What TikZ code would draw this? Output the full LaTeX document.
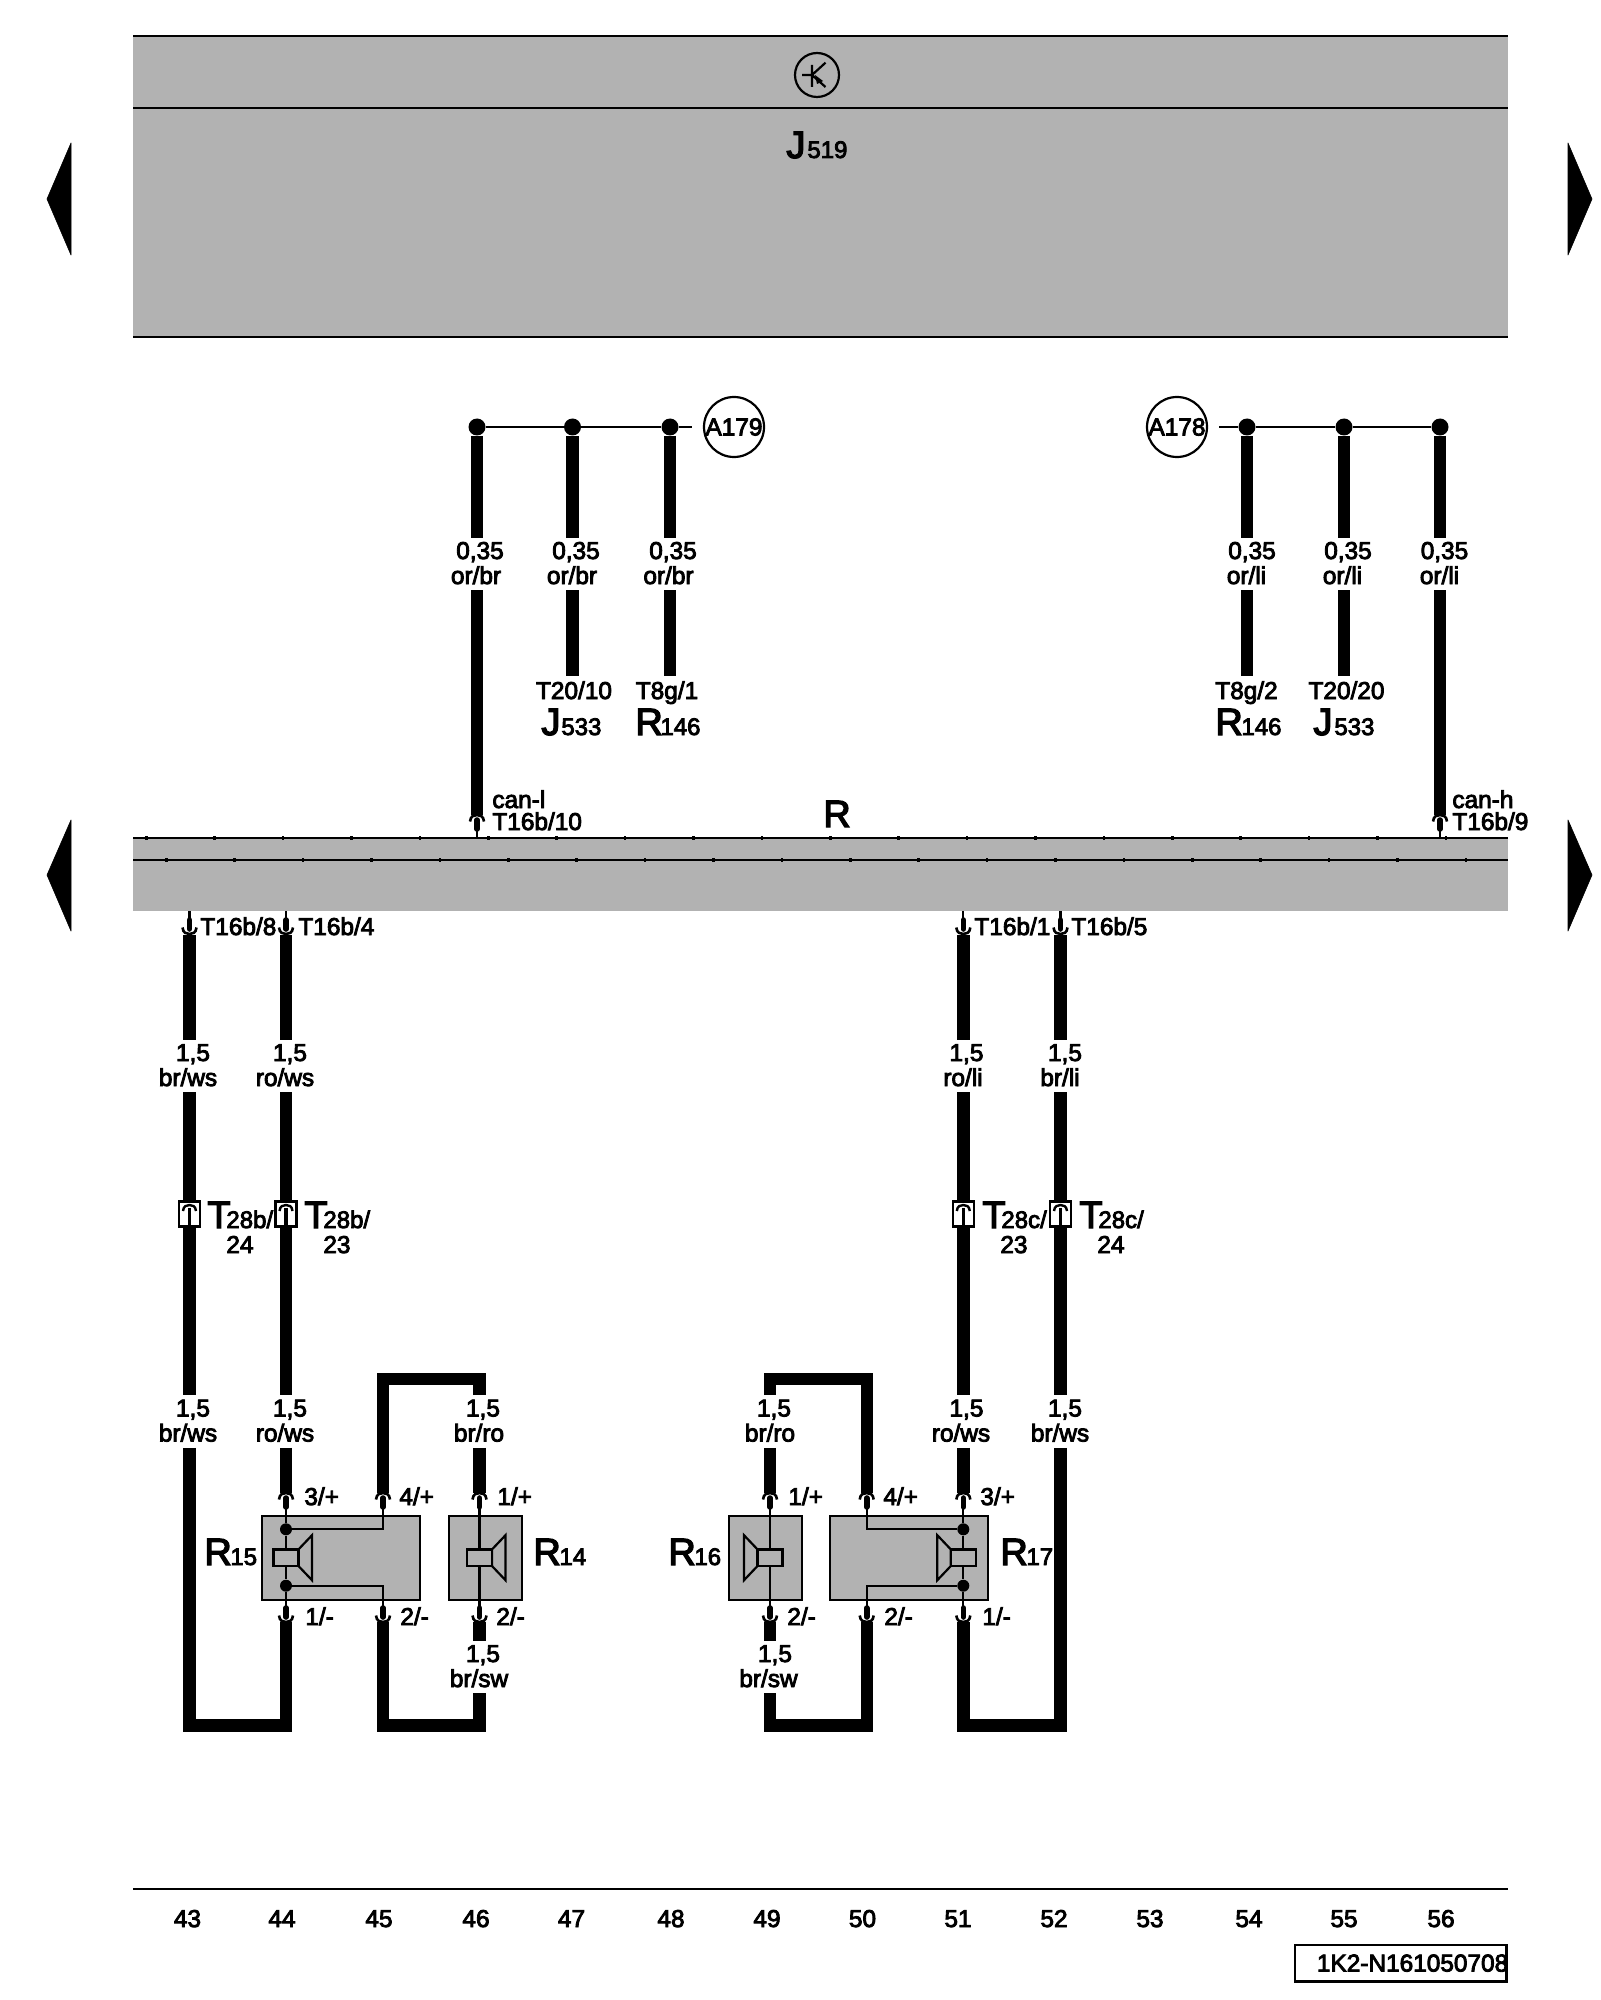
\documentclass[tikz,border=0pt]{standalone}
\usepackage{fontspec}
\setmainfont{Liberation Sans}[FakeBold=3.5]
\usetikzlibrary{calc}
\definecolor{panel}{HTML}{B2B2B2}
\newcommand{\fsA}{\fontsize{12.2}{14}\selectfont}
\newcommand{\fsB}{\fontsize{19}{21}\selectfont}
\newcommand{\fsC}{\fontsize{12}{13}\selectfont}
\tikzset{
  wire/.style={line width=6.2pt,line cap=butt,line join=miter},
  thin wire/.style={line width=1.1pt},
  rule/.style={line width=1.2pt},
  txt/.style={inner sep=0pt,anchor=base,font=\fsA},
  txtl/.style={inner sep=0pt,anchor=base west,font=\fsA},
  gapnode/.style={inner sep=0pt,minimum width=6pt,minimum height=26pt},
  devbox/.style={draw,fill=panel,line width=1.1pt,inner sep=0pt,minimum height=42pt},
  ground/.style={draw,circle,line width=1.1pt,minimum size=30pt,inner sep=0pt,font=\fsA},
  joint/.style={circle,fill=black,inner sep=0pt,minimum size=8.5pt},
  devdot/.style={circle,fill=black,inner sep=0pt,minimum size=6pt},
  navarrow/.style={fill=black,draw=black,line width=.3pt,line join=round},
}
% gap in a wire with a two line label
\newcommand{\wlabel}[7]{%
  \node[gapnode] (#1) at (#2,#3) {};
  \node[txt] (#1a) at (#4,{#3-5}) {#5};
  \node[txt] (#1b) at (#6,{#3+20}) {#7};}
% connector opening upward (wire above, pin below)
\newcommand{\conup}[2]{%
  \begin{scope}[shift={(#1,#2)}]
    \draw[line width=1.3pt] (-7,6.5) .. controls (-6.5,1) and (-3,0) .. (0,0) .. controls (3,0) and (6.5,1) .. (7,6.5);
    \draw[line width=2.8pt,line cap=round] (0,5) -- (0,14);
  \end{scope}}
\newcommand{\condown}[2]{%
  \begin{scope}[shift={(#1,#2)}]
    \draw[line width=1.3pt] (-7,-6.5) .. controls (-6.5,-1) and (-3,0) .. (0,0) .. controls (3,0) and (6.5,-1) .. (7,-6.5);
    \draw[line width=2.8pt,line cap=round] (0,-5) -- (0,-14);
  \end{scope}}
\newcommand{\speaker}[3]{%
  \begin{scope}[shift={(#1,1557.7)},xscale=#2]
    \draw[line width=1.1pt,fill=panel,line join=miter] (12.5,-8.3) -- (26,-22.5) -- (26,22.5) -- (12.5,8.3) -- cycle;
    \draw[line width=1.1pt,fill=panel] (-12.5,-8.3) rectangle (12.5,8.3);
  \end{scope}}
\newcommand{\tbox}[1]{%
  \begin{scope}[shift={(#1,1214)}]
    \draw[line width=1.1pt,fill=white] (-10.5,-12.5) rectangle (10.5,12.5);
    \draw[line width=1.2pt] (-6.5,-3) .. controls (-6,-8) and (-3,-9) .. (0,-9) .. controls (3,-9) and (6,-8) .. (6.5,-3);
    \draw[line width=1.8pt] (0,-6) -- (0,12.5);
  \end{scope}}
\newcommand{\biglabel}[6]{% name, letter x, baseline, letter, sub x, sub
  \node[inner sep=0pt,anchor=base west,font=\fsB] (#1) at (#2,#3) {#4};
  \node[inner sep=0pt,anchor=base west,font=\fsC] (#1s) at (#5,#3) {#6};}
\begin{document}
\begin{tikzpicture}[x=0.5pt,y=-0.5pt]
\useasboundingbox (0,0) rectangle (1600,2000);
% control unit
\fill[panel] (133,36) rectangle (1508,337);
\draw[rule] (133,36) -- (1508,36);
\draw[rule] (133,108) -- (1508,108);
\draw[rule] (133,337) -- (1508,337);
\node[draw,circle,line width=1.1pt,minimum size=22pt,inner sep=0pt] (trans) at (817,75) {};
\draw[line width=1.1pt] (802,75) -- (812,75) (812,65) -- (812,87) (812,75) -- (825.5,62.7) (812,75) -- (825.5,87);
\fill (815,75) -- (823,81) -- (817,84) -- cycle;
\biglabel{J519}{786}{158}{J}{807}{519}
% nav arrows
\draw[navarrow] (71,143) -- (47,199) -- (71,255) -- cycle;
\draw[navarrow] (1568,143) -- (1592,199) -- (1568,255) -- cycle;
\draw[navarrow] (71,820) -- (47,875) -- (71,931) -- cycle;
\draw[navarrow] (1568,820) -- (1592,875) -- (1568,931) -- cycle;
% bus panel
\fill[panel] (133,838) rectangle (1508,911);
\draw[rule] (133,838) -- (1508,838);
\draw[rule] (133,860) -- (1508,860);
\foreach \k in {0,...,19} {
  \fill ({145+68.4*\k},836.2) rectangle ({147.5+68.4*\k},839.8);
  \fill ({165+68.4*\k},858.2) rectangle ({167.5+68.4*\k},861.8);
}
\node[inner sep=0pt,anchor=base,font=\fsB] (Rbus) at (837,827) {R};
% grounds / CAN star points
\node[ground] (A179) at (734,427) {A179};
\node[ground] (A178) at (1177,427) {A178};
\coordinate (s179) at (692,427);
\coordinate (s178) at (1219,427);
\node[joint] (d1) at (477,427) {};
\node[joint] (d2) at (572.5,427) {};
\node[joint] (d3) at (670,427) {};
\node[joint] (d4) at (1247,427) {};
\node[joint] (d5) at (1344,427) {};
\node[joint] (d6) at (1440,427) {};
\draw[thin wire] (d1) -- (d2) -- (d3) -- (s179);
\draw[thin wire] (s178) -- (d4) -- (d5) -- (d6);
\wlabel{g1}{477}{564}{480}{0,35}{476}{or/br}
\wlabel{g2}{572.5}{564}{576}{0,35}{572}{or/br}
\wlabel{g3}{670}{564}{673}{0,35}{668.5}{or/br}
\wlabel{g4}{1247}{564}{1252}{0,35}{1246.5}{or/li}
\wlabel{g5}{1344}{564}{1348}{0,35}{1342.5}{or/li}
\wlabel{g6}{1440}{564}{1444.5}{0,35}{1439.5}{or/li}
\coordinate (e2) at (572.5,676);
\coordinate (e3) at (670,676);
\coordinate (e4) at (1247,676);
\coordinate (e5) at (1344,676);
\coordinate (b1) at (477,815);
\coordinate (b6) at (1440,815);
\draw[wire] (d1) -- (d1 |- g1.north) (d1 |- g1.south) -- (b1);
\draw[wire] (d2) -- (d2 |- g2.north) (d2 |- g2.south) -- (e2);
\draw[wire] (d3) -- (d3 |- g3.north) (d3 |- g3.south) -- (e3);
\draw[wire] (d4) -- (d4 |- g4.north) (d4 |- g4.south) -- (e4);
\draw[wire] (d5) -- (d5 |- g5.north) (d5 |- g5.south) -- (e5);
\draw[wire] (d6) -- (d6 |- g6.north) (d6 |- g6.south) -- (b6);
\conup{477}{815}
\conup{1440}{815}
\draw[thin wire] (477,825) -- (477,838);
\draw[thin wire] (1440,825) -- (1440,838);
\node[txt] (t1) at (574,699) {T20/10};
\node[txt] (t2) at (667,699) {T8g/1};
\node[txt] (t3) at (1246.5,699) {T8g/2};
\node[txt] (t4) at (1346.5,699) {T20/20};
\biglabel{J533a}{541}{735}{J}{561}{533}
\biglabel{R146a}{635}{735}{R}{660}{146}
\biglabel{R146b}{1215}{735}{R}{1241}{146}
\biglabel{J533b}{1313}{735}{J}{1334}{533}
\node[txtl] (cl) at (492,808) {can-l};
\node[txtl] (T10) at (492,830) {T16b/10};
\node[txtl] (ch) at (1452,808) {can-h};
\node[txtl] (T9) at (1452,830) {T16b/9};
% bus to speakers wires
\foreach \x in {189.5,286,963.3,1060.5} {
  \condown{\x}{934}
  \draw[thin wire] (\x,911) -- (\x,922);
}
\node[txtl] (T8) at (200,935) {T16b/8};
\node[txtl] (T4) at (298,935) {T16b/4};
\node[txtl] (T1) at (974,935) {T16b/1};
\node[txtl] (T5) at (1071,935) {T16b/5};
\wlabel{a1}{189.5}{1066}{193}{1,5}{188}{br/ws}
\wlabel{a2}{286}{1066}{290}{1,5}{285}{ro/ws}
\wlabel{a3}{963.3}{1066}{966.5}{1,5}{963}{ro/li}
\wlabel{a4}{1060.5}{1066}{1065}{1,5}{1060}{br/li}
\wlabel{c1}{189.5}{1421.5}{193}{1,5}{188}{br/ws}
\wlabel{c2}{286}{1421.5}{290}{1,5}{285}{ro/ws}
\wlabel{c3}{963.3}{1421.5}{966.5}{1,5}{961}{ro/ws}
\wlabel{c4}{1060.5}{1421.5}{1065}{1,5}{1060}{br/ws}
\wlabel{c5}{479.5}{1421.5}{483}{1,5}{479}{br/ro}
\wlabel{c6}{770}{1421.5}{774}{1,5}{770}{br/ro}
\wlabel{f5}{479.5}{1667}{483}{1,5}{479}{br/sw}
\wlabel{f6}{770}{1667}{775}{1,5}{768.5}{br/sw}
% named turning points
\coordinate (u1) at (383,1379);
\coordinate (u2) at (479.5,1379);
\coordinate (u3) at (770,1379);
\coordinate (u4) at (866.7,1379);
\coordinate (v1) at (189.5,1725.5);
\coordinate (v2) at (286,1725.5);
\coordinate (v3) at (383,1725.5);
\coordinate (v4) at (479.5,1725.5);
\coordinate (v5) at (770,1725.5);
\coordinate (v6) at (866.7,1725.5);
\coordinate (v7) at (963.3,1725.5);
\coordinate (v8) at (1060.5,1725.5);
% thick wires
\draw[wire] (a1 |- 0,935) -- (a1.north);
\draw[wire] (a2 |- 0,935) -- (a2.north);
\draw[wire] (a3 |- 0,935) -- (a3.north);
\draw[wire] (a4 |- 0,935) -- (a4.north);
\draw[wire] (a1.south) -- (c1.north);
\draw[wire] (a2.south) -- (c2.north);
\draw[wire] (a3.south) -- (c3.north);
\draw[wire] (a4.south) -- (c4.north);
\draw[wire] (c1.south) -- (v1) -- (v2) -- (v2 |- 0,1622);
\draw[wire] (c4.south) -- (v8) -- (v7) -- (v7 |- 0,1622);
\draw[wire] (c2.south) -- (c2 |- 0,1493);
\draw[wire] (c3.south) -- (c3 |- 0,1493);
\draw[wire] (c5.north) -- (u2) -- (u1) -- (u1 |- 0,1493);
\draw[wire] (c6.north) -- (u3) -- (u4) -- (u4 |- 0,1493);
\draw[wire] (c5.south) -- (c5 |- 0,1493);
\draw[wire] (c6.south) -- (c6 |- 0,1493);
\draw[wire] (f5.north) -- (f5 |- 0,1622);
\draw[wire] (f6.north) -- (f6 |- 0,1622);
\draw[wire] (f5.south) -- (v4) -- (v3) -- (v3 |- 0,1622);
\draw[wire] (f6.south) -- (v5) -- (v6) -- (v6 |- 0,1622);
% separable connectors
\tbox{189.5}\tbox{286}\tbox{963.3}\tbox{1060.5}
\biglabel{T28a}{207}{1228}{T}{226}{28b/}
\biglabel{T28b}{304}{1228}{T}{323}{28b/}
\biglabel{T28c}{982}{1228}{T}{1001}{28c/}
\biglabel{T28d}{1079}{1228}{T}{1098}{28c/}
\node[txtl] (n24a) at (226,1253) {24};
\node[txtl] (n23a) at (323,1253) {23};
\node[txtl] (n23c) at (1000,1253) {23};
\node[txtl] (n24c) at (1097,1253) {24};
% speakers
\node[devbox,minimum width=78.85pt] (R15) at (341.2,1558) {};
\node[devbox,minimum width=36.35pt] (R14) at (485.4,1558) {};
\node[devbox,minimum width=36.35pt] (R16) at (765.3,1558) {};
\node[devbox,minimum width=78.85pt] (R17) at (908.8,1558) {};
\foreach \x in {286,383,479.5,770,866.7,963.3} {
  \conup{\x}{1493}
  \condown{\x}{1622}
}
\node[devdot] (r15a) at (286,1529.3) {};
\node[devdot] (r15b) at (286,1585.7) {};
\node[devdot] (r17a) at (963.3,1529.3) {};
\node[devdot] (r17b) at (963.3,1585.7) {};
\draw[thin wire] (286,1505) -- (r15a) -- (r15b) -- (286,1610);
\draw[thin wire] (383,1505) -- (383,1529.3) -- (r15a);
\draw[thin wire] (383,1610) -- (383,1585.7) -- (r15b);
\draw[thin wire] (479.5,1505) -- (479.5,1610);
\draw[thin wire] (770,1505) -- (770,1610);
\draw[thin wire] (963.3,1505) -- (r17a) -- (r17b) -- (963.3,1610);
\draw[thin wire] (866.7,1505) -- (866.7,1529.3) -- (r17a);
\draw[thin wire] (866.7,1610) -- (866.7,1585.7) -- (r17b);
\speaker{286}{1}{}
\speaker{479.5}{1}{}
\speaker{770}{-1}{}
\speaker{963.3}{-1}{}
\biglabel{LR15}{204}{1565}{R}{230}{15}
\biglabel{LR14}{533}{1565}{R}{559}{14}
\biglabel{LR16}{668}{1565}{R}{694}{16}
\biglabel{LR17}{1000}{1565}{R}{1026}{17}
\node[txtl] (p1) at (304,1505) {3/+};
\node[txtl] (p2) at (399,1505) {4/+};
\node[txtl] (p3) at (497,1505) {1/+};
\node[txtl] (p4) at (788,1505) {1/+};
\node[txtl] (p5) at (883,1505) {4/+};
\node[txtl] (p6) at (980,1505) {3/+};
\node[txtl] (m1) at (305,1625) {1/-};
\node[txtl] (m2) at (400,1625) {2/-};
\node[txtl] (m3) at (496,1625) {2/-};
\node[txtl] (m4) at (787,1625) {2/-};
\node[txtl] (m5) at (884,1625) {2/-};
\node[txtl] (m6) at (982,1625) {1/-};
% footer
\draw[rule] (133,1889) -- (1508,1889);
\foreach \x/\n in {187.5/43,282/44,379/45,476/46,571.5/47,671/48,767/49,862.5/50,958/51,1054/52,1150/53,1249/54,1344/55,1441/56} {
  \node[txt] (col\n) at (\x,1927) {\n};
}
\draw[line width=1.2pt] (1295,1945) rectangle (1506.5,1981.5);
\node[txtl] (docid) at (1316.5,1971.5) {1K2-N161050708};
\end{tikzpicture}
\end{document}
